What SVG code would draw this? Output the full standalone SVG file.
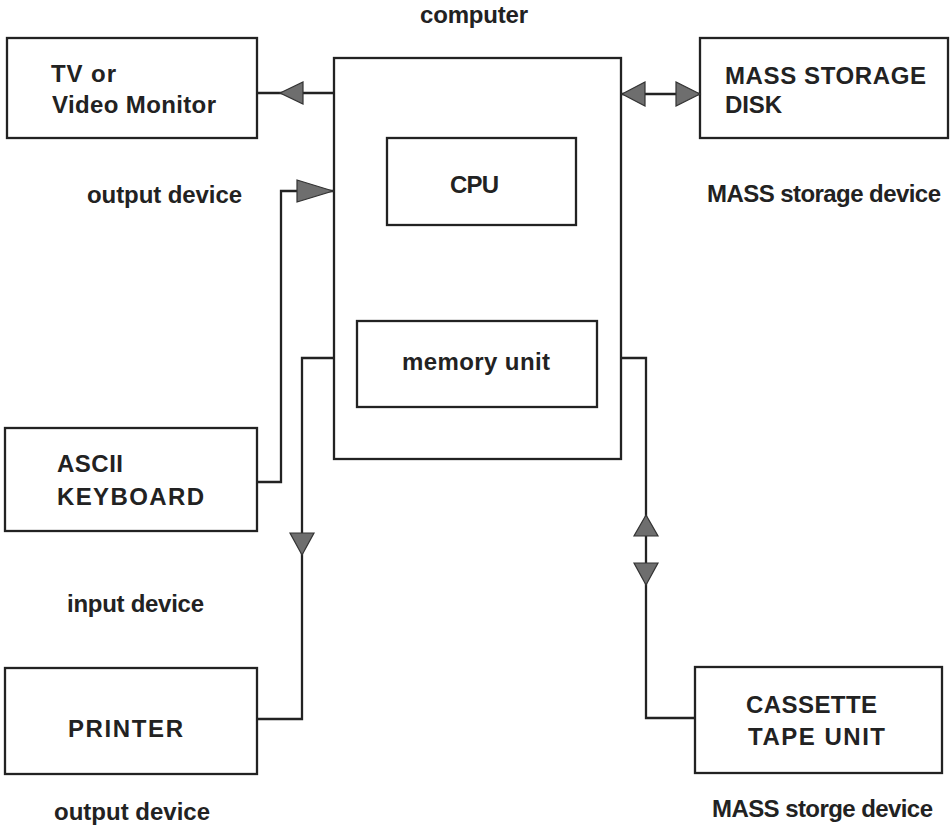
<svg xmlns="http://www.w3.org/2000/svg" width="952" height="829" viewBox="0 0 952 829">
<style>
.box{fill:none;stroke:#222;stroke-width:2.3}
.ln{fill:none;stroke:#222;stroke-width:2.3;stroke-linejoin:miter}
.ah{fill:#6e6e6e;stroke:#333;stroke-width:1.2}
text{font-family:"Liberation Sans",Arial,Helvetica,sans-serif;font-weight:bold;font-size:24px;fill:#222}
</style>
<rect width="952" height="829" fill="#fff"/>
<g id="computer">
<rect class="box" x="334" y="58" width="287" height="401"/>
<text x="420" y="23" textLength="108" lengthAdjust="spacing">computer</text>
</g>
<g id="cpu">
<rect class="box" x="387" y="138" width="189" height="87"/>
<text x="450" y="193" textLength="49" lengthAdjust="spacing">CPU</text>
</g>
<g id="memory">
<rect class="box" x="357" y="321" width="240" height="86"/>
<text x="402" y="370" textLength="148" lengthAdjust="spacing">memory unit</text>
</g>
<g id="tv">
<rect class="box" x="7" y="38" width="250" height="100"/>
<text x="51" y="82" textLength="65" lengthAdjust="spacing">TV or</text>
<text x="52" y="113" textLength="164" lengthAdjust="spacing">Video Monitor</text>
<text x="87" y="203" textLength="155" lengthAdjust="spacing">output device</text>
</g>
<g id="disk">
<rect class="box" x="700" y="38" width="248" height="100"/>
<text x="725" y="84" textLength="201" lengthAdjust="spacing">MASS STORAGE</text>
<text x="725" y="113" textLength="57" lengthAdjust="spacing">DISK</text>
<text x="707" y="202" textLength="234" lengthAdjust="spacing">MASS storage device</text>
</g>
<g id="keyboard">
<rect class="box" x="5" y="428" width="252" height="103"/>
<text x="57" y="472" textLength="66" lengthAdjust="spacing">ASCII</text>
<text x="57" y="505" textLength="147" lengthAdjust="spacing">KEYBOARD</text>
<text x="67" y="612" textLength="137" lengthAdjust="spacing">input device</text>
</g>
<g id="printer">
<rect class="box" x="5" y="668" width="252" height="106"/>
<text x="68" y="737" textLength="115" lengthAdjust="spacing">PRINTER</text>
<text x="54" y="820" textLength="156" lengthAdjust="spacing">output device</text>
</g>
<g id="cassette">
<rect class="box" x="695" y="667" width="247" height="106"/>
<text x="746" y="713" textLength="131" lengthAdjust="spacing">CASSETTE</text>
<text x="748" y="745" textLength="137" lengthAdjust="spacing">TAPE UNIT</text>
<text x="712" y="817" textLength="221" lengthAdjust="spacing">MASS storge device</text>
</g>
<g id="connectors">
<line class="ln" x1="257" y1="93" x2="334" y2="93"/>
<polygon class="ah" points="280,93 303,82 303,104"/>
<polyline class="ln" points="257,482 281,482 281,191 334,191"/>
<polygon class="ah" points="333,191 297,180 297,202"/>
<line class="ln" x1="621" y1="94" x2="700" y2="94"/>
<polygon class="ah" points="622,94 645,82 645,106"/>
<polygon class="ah" points="700,94 676,82 676,106"/>
<polyline class="ln" points="334,358 302,358 302,719 257,719"/>
<polygon class="ah" points="302,555 290,533 314,533"/>
<polyline class="ln" points="621,358 646,358 646,718 695,718"/>
<polygon class="ah" points="646,515 634,536 658,536"/>
<polygon class="ah" points="646,585 634,563 658,563"/>
</g>
</svg>
